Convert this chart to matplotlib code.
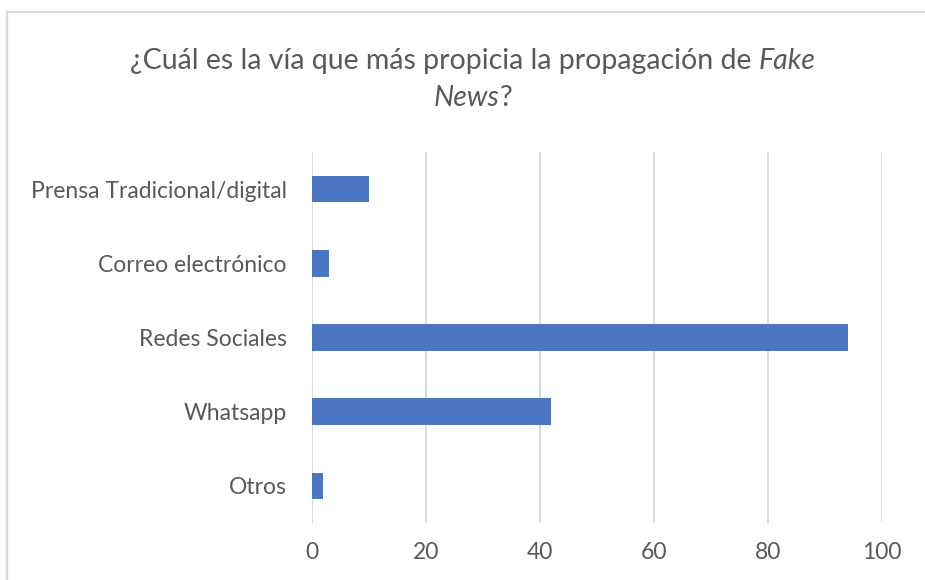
import matplotlib
matplotlib.use("Agg")
import matplotlib.pyplot as plt
from matplotlib.lines import Line2D

categories = ["Prensa Tradicional/digital", "Correo electrónico", "Redes Sociales",
              "Whatsapp", "Otros"]
values = [10, 3, 94, 42, 2]
xticks = [0, 20, 40, 60, 80, 100]

TEXT = "#595959"
GRID = "#d9d9d9"
BAR = "#4a76c2"
FONT = "Lato"

fig = plt.figure(figsize=(9.25, 5.8), dpi=100)
ax = fig.add_axes([312 / 925, 1 - 523 / 580, (882 - 312) / 925, (523 - 152) / 580])

ypos = list(range(len(categories)))
ax.barh(ypos, values, height=0.36, color=BAR, zorder=3)
ax.set_ylim(len(categories) - 0.5, -0.5)
ax.set_xlim(0, 100)
ax.set_xticks(xticks)
ax.set_yticks(ypos)
ax.set_yticklabels(categories)
ax.xaxis.grid(True, color=GRID, linewidth=1.4, zorder=0)
ax.tick_params(length=0, labelsize=16.5, labelcolor=TEXT)
ax.tick_params(axis="y", pad=18)
ax.tick_params(axis="x", pad=14)
for lab in ax.get_xticklabels() + ax.get_yticklabels():
    lab.set_fontfamily(FONT)
for s in ax.spines.values():
    s.set_visible(False)

# chart frame
fig.add_artist(Line2D([7 / 925, 1.0], [1 - 12 / 580] * 2, color=GRID, linewidth=1.6))
fig.add_artist(Line2D([7 / 925] * 2, [0.0, 1 - 12 / 580], color=GRID, linewidth=1.6))

# title with italic words, laid out piece by piece and centred
renderer = fig.canvas.get_renderer()


def centred_line(pieces, y):
    objs = []
    for txt, style in pieces:
        t = fig.text(0, y, txt, fontsize=20.5, color=TEXT, family=FONT, style=style,
                     va="baseline", ha="left")
        objs.append(t)
    widths = [t.get_window_extent(renderer).width for t in objs]
    total = sum(widths)
    x = 473 - total / 2
    for t, w in zip(objs, widths):
        t.set_x(x / 925)
        x += w


centred_line([("¿Cuál es la vía que más propicia la propagación de ", "normal"),
              ("Fake", "italic")], 1 - 69 / 580)
centred_line([("News", "italic"), ("?", "normal")], 1 - 106 / 580)

fig.savefig("out.png", dpi=100)
